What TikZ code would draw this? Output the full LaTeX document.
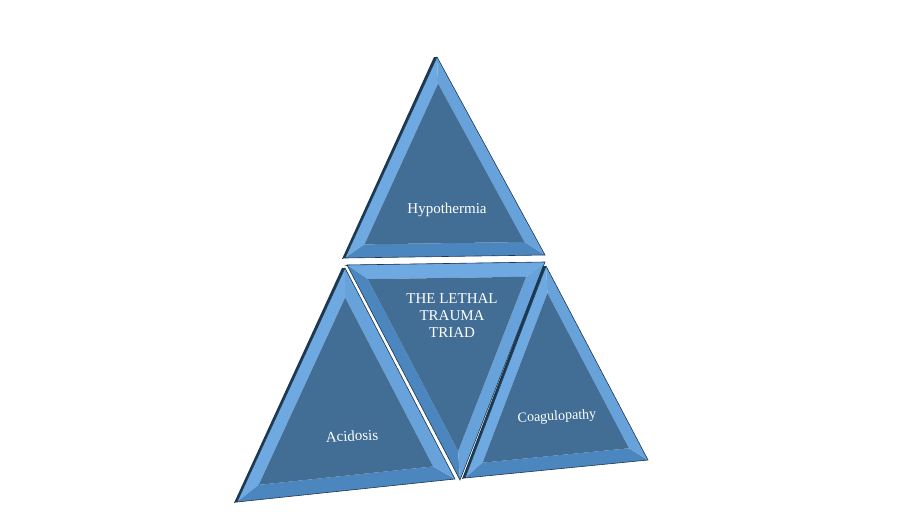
\documentclass[tikz,border=0pt]{standalone}
\usepackage{fontspec}
\setmainfont{Liberation Serif}
\usetikzlibrary{calc}

\definecolor{faceblue}{RGB}{66,110,150}
\definecolor{bevlight}{RGB}{110,170,225}
\definecolor{bevmid}{RGB}{75,135,190}
\definecolor{bevdark}{RGB}{28,55,80}

% one bevelled triangle: name, three corners
\newcommand{\facet}[4]{%
  \coordinate (#1a) at #2;
  \coordinate (#1b) at #3;
  \coordinate (#1c) at #4;
  \coordinate (#1m) at ($($(#1a)!0.5!(#1b)$)!1/3!(#1c)$);
  \coordinate (#1ia) at ($(#1m)!0.8!(#1a)$);
  \coordinate (#1ib) at ($(#1m)!0.8!(#1b)$);
  \coordinate (#1ic) at ($(#1m)!0.8!(#1c)$);
  \fill[bevdark] ($(#1a)+(-3,0)$) -- ($(#1b)+(-3,1)$) -- (#1b) -- (#1a) -- cycle;
  \fill[bevlight] (#1a) -- (#1b) -- (#1ib) -- (#1ia) -- cycle;
  \fill[bevmid] (#1b) -- (#1c) -- (#1ic) -- (#1ib) -- cycle;
  \fill[bevlight!80!bevmid] (#1c) -- (#1a) -- (#1ia) -- (#1ic) -- cycle;
  \fill[faceblue] (#1ia) -- (#1ib) -- (#1ic) -- cycle;
  \draw[bevdark, line width=0.6] (#1a) -- (#1b) -- (#1c) -- cycle;
}

\begin{document}
\begin{tikzpicture}[x=1pt, y=-1pt]
        \tikzset{label/.style={text=white, font=\fontsize{15}{17}\selectfont, align=center}}
        \useasboundingbox[fill=white] (0,0) rectangle (900,525);

        % Triangles
        \facet{top}{(437,57)}{(345,258)}{(545,255)}
        \facet{mid}{(545,262)}{(347,265)}{(460,480)}
        \facet{lft}{(345,268)}{(237,502)}{(455,479)}
        \facet{rgt}{(546,266)}{(465,478)}{(648,460)}

        % Labels
        \node [label] (hypo) at (447,210) {Hypothermia};
        \node [label] (triad) at (452,316) {THE LETHAL\\TRAUMA\\TRIAD};
        \node [label, rotate=3] (acid) at (352,436) {Acidosis};
        \node [label, rotate=3, font=\fontsize{14}{16}\selectfont] (coag) at (557,417) {Coagulopathy};
    \end{tikzpicture}
\end{document}
